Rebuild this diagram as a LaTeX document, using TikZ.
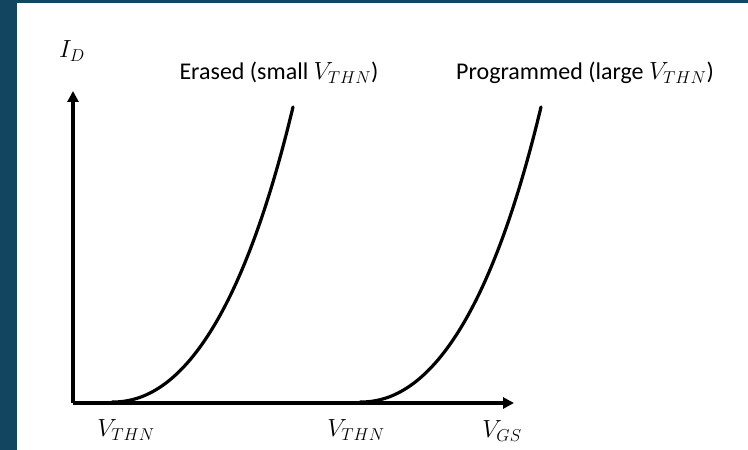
\documentclass[tikz,border=0pt]{standalone}
\usepackage{fontspec}
\setmainfont{Carlito}
\usetikzlibrary{arrows.meta}
\definecolor{frame}{RGB}{18,69,95}
\begin{document}
\begin{tikzpicture}[x=1bp,y=-1bp,
  axis/.style={line width=3.4bp,-{Triangle[length=11bp,width=11bp]}},
  curve/.style={line width=3.2bp,line cap=round},
  lbl/.style={inner sep=0pt,font=\fontsize{24bp}{27bp}\selectfont},
  mlbl/.style={inner sep=0pt,font=\fontsize{25bp}{29bp}\selectfont}]
\useasboundingbox (0,0) rectangle (748,450);
\fill[white] (0,0) rectangle (748,450);
\fill[frame] (0,0) rectangle (17,450);
\fill[frame] (0,0) rectangle (748,3);
\coordinate (o) at (73,403);
\coordinate (ytip) at (73,91);
\coordinate (xtip) at (514,403);
\draw[axis] (o) -- (ytip);
\draw[axis] (o) -- (xtip);
\coordinate (e0) at (112,402);
\coordinate (e1) at (293,107);
\coordinate (p0) at (360,402);
\coordinate (p1) at (541,107);
\draw[curve] (e0) .. controls (168,403) and (236,345) .. (e1);
\draw[curve] (p0) .. controls (416,403) and (484,345) .. (p1);
\node[mlbl] (id) at (72,51) {$I_D$};
\node[lbl] (er) at (279,73) {Erased (small $V_{THN}$)};
\node[lbl] (pr) at (585,73) {Programmed (large $V_{THN}$)};
\node[mlbl] (v1) at (126,430) {$V_{THN}$};
\node[mlbl] (v2) at (356,430) {$V_{THN}$};
\node[mlbl] (vgs) at (502,431) {$V_{GS}$};
\end{tikzpicture}
\end{document}
